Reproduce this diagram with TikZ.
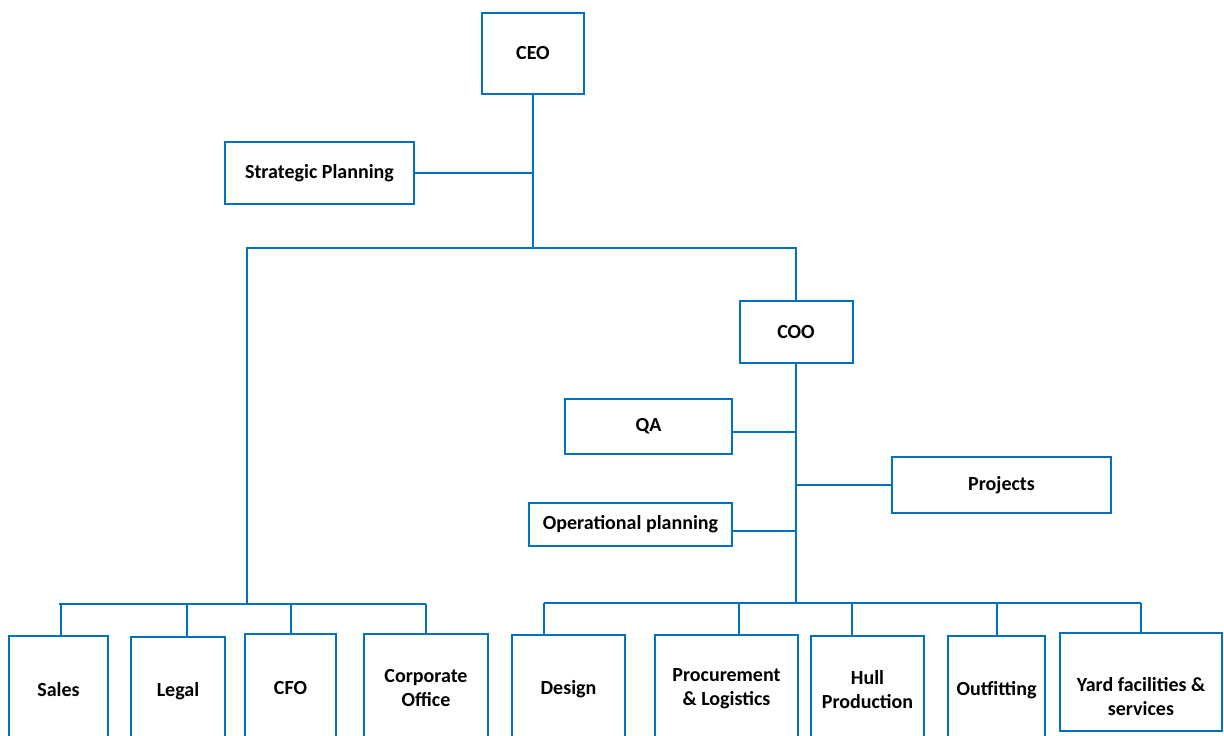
\documentclass[tikz,border=0pt]{standalone}
\usepackage{fontspec}
\setmainfont{Carlito}
\usepackage{tikz}
\usetikzlibrary{positioning}
\definecolor{orgblue}{RGB}{0,112,192}
\tikzset{
  unit/.style={draw=orgblue,line width=2pt,fill=white,inner sep=2pt,align=center,
    font=\fontsize{20}{24}\selectfont\bfseries},
  link/.style={draw=orgblue,line width=2pt}
}

\begin{document}
\begin{tikzpicture}[x=1pt,y=-1pt]
    \useasboundingbox (0,0) rectangle (1224,736);
    % top of the chart
    \node[unit,minimum width=102,minimum height=81] (ceo) at (533,53.5) {CEO};
    \node[unit,minimum width=189,minimum height=62] (strat) at (319.5,173) {Strategic Planning};
    \node[unit,minimum width=113,minimum height=62] (coo) at (796,332) {COO};
    \node[unit,minimum width=167,minimum height=55] (qa) at (648.5,426.5) {QA};
    \node[unit,minimum width=219,minimum height=56] (proj) at (1001.5,485) {Projects};
    \node[unit,minimum width=203,minimum height=43] (opplan) at (630.5,524.5) {Operational planning};
    % departments
    \node[unit,minimum width=99,minimum height=108] (sales) at (58.5,690) {Sales};
    \node[unit,minimum width=94,minimum height=108] (legal) at (178,691) {Legal};
    \node[unit,minimum width=91,minimum height=108] (cfo) at (290.5,688) {CFO};
    \node[unit,minimum width=124,minimum height=108] (corp) at (426,688) {Corporate\\Office};
    \node[unit,minimum width=113,minimum height=108] (design) at (568.5,689) {Design};
    \node[unit,minimum width=143,minimum height=108] (proc) at (726.5,689) {Procurement\\\& Logistics};
    \node[unit,minimum width=113,minimum height=108] (hull) at (867.5,690) {Hull\\Production};
    \node[unit,minimum width=97,minimum height=108] (outfit) at (996.5,690) {Outfitting};
    \node[unit,minimum width=162,minimum height=98] (yard) at (1141,682) {\rule{0pt}{44pt}Yard facilities \&\\services};

    % connectors
    \coordinate (topbus) at (533,248);
    \coordinate (lbus) at (247,604);
    \coordinate (rbus) at (796,603);
    \draw[link] (ceo.south) -- (topbus);
    \draw[link] (strat.east) -- (strat.east -| ceo.south);
    \draw[link] (lbus) |- (coo.north |- topbus) -- (coo.north);
    \draw[link] (coo.south) -- (rbus);
    \draw[link] ([yshift=-5.5pt]qa.east) -- ([yshift=-5.5pt]qa.east -| rbus);
    \draw[link] (proj.west) -- (proj.west -| rbus);
    \draw[link] ([yshift=-6.5pt]opplan.east) -- ([yshift=-6.5pt]opplan.east -| rbus);
    % left group
    \draw[link] ([xshift=0.5pt]sales.north |- lbus) -- (corp.north |- lbus);
    \foreach \n/\dx in {sales/2.5,legal/9,cfo/0,corp/0}
      \draw[link] ([xshift=\dx pt]\n.north) -- ([xshift=\dx pt]\n.north |- lbus);
    % right group
    \draw[link] ([xshift=-24.5pt]design.north |- rbus) -- (yard.north |- rbus);
    \foreach \n/\dx in {design/-24.5,proc/12.5,hull/-15.5,outfit/0,yard/0}
      \draw[link] ([xshift=\dx pt]\n.north) -- ([xshift=\dx pt]\n.north |- rbus);
\end{tikzpicture}
\end{document}
